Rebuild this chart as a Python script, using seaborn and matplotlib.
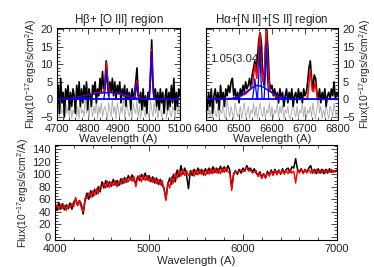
import numpy as np
import pandas as pd
import matplotlib
matplotlib.use("Agg")
import matplotlib.pyplot as plt
import seaborn as sns
from matplotlib.ticker import MultipleLocator

# ---------------- data ----------------
# H-beta + [O III] panel (4 A grid, 4700-5100)
hb_wave = np.arange(4700, 5101, 4)
hb_obs = [-2, 4, -4, 6, -1, 2, -5, 3, 0, 4,
          -3, 2, -2, 3, 1, -4, 4, 0, 5, -2,
          3, -1, 4, 0, 5, -3, 3, 1, -2, 4,
          2, 5, -1, 3, 1, 6, 2, 8, 3, 5,
          11, 6, 1, 5, 2, 6, 1, 5, 0, 4,
          2, 5, -1, 3, 1, 4, -2, 3, 0, 2,
          -3, 3, 0, 2, 5, 9, 2, -1, 2, -3,
          3, -2, 1, -4, 2, 0, 6, 17, 5, 0,
          3, -2, 2, -3, 3, -1, 2, -4, 1, 3,
          -3, 2, -2, 4, -1, 6, -3, 2, -2, 3, 1]
hb_resid = [-5, -2, -5.5, -1, -4, -3, -5.5, 0, -4, -2,
            -5, -1, -5.5, -3, -4, 0.5, -5, -2, -5.5, -1,
            -4, -3, -5, 1, -4, -2, -5.5, -1, -3, -5,
            -2, -4, 0, -5.5, -2, -4, -1, -5, -3, -2,
            -4, -5.5, -1, -3, -5, 0, -4, -2, -5.5, -1,
            -3, -5, -2, -4, 1, -5.5, -3, -1, -4, -5,
            -2, -5.5, -1, -3, -4, 0, -5, -2, -5.5, -3,
            -1, -4, -5, -2, -4, -5.5, 0, -3, -5, -1,
            -4, -2, -5.5, -3, -1, -5, -4, -2, 0, -5.5,
            -3, -1, -4, -5, -2, -3, -5.5, -1, -4, -2, -5]
hb_model_w = [4700, 4750, 4780, 4810, 4840, 4852, 4856, 4861, 4866, 4870, 4890,
              4920, 4950, 4953, 4959, 4965, 4970, 4990, 4999, 5002, 5007,
              5012, 5015, 5040, 5100]
hb_model_f = [0, 0.3, 0.8, 1.5, 2.0, 2.1, 4, 10.5, 4.5, 2.1, 1.8,
              1.2, 0.5, 1, 5.3, 1, 0.3, 0.1, 0.2, 4, 14.2,
              4, 0.2, 0, 0]
hb_broad_w = [4726, 4760, 4790, 4820, 4845, 4872, 4900, 4925, 4950, 4970]
hb_broad_f = [0, 0.4, 0.9, 1.5, 1.8, 1.95, 1.8, 1.3, 0.6, 0]
hb_nar_w = [[4852, 4857, 4861, 4865, 4870],
            [4952, 4956, 4959, 4962, 4966],
            [4999, 5003, 5007, 5011, 5015]]
hb_nar_f = [[0, 3, 8.5, 3, 0],
            [0, 2, 4.5, 2, 0],
            [0, 5, 13.6, 5, 0]]

# H-alpha + [N II] + [S II] panel (4 A grid, 6400-6800)
ha_wave = np.arange(6400, 6801, 4)
ha_obs = [1, -3, 2, -2, 3, -4, 1, 3, -1, 2,
          -3, 4, 0, 2, -2, 3, 1, 4, 2, 5,
          6, 1, 3, 0, 2, -1, 3, 1, 4, 2,
          5, 3, 4, 6, 3, 7, 9, 11, 8, 12,
          17, 19, 16, 7, 4, 15, 20, 14, 5, 3,
          4, 1, 3, 0, 2, -1, 3, 0, 2, -2,
          1, 3, -1, 2, 0, 3, -2, 1, 2, -1,
          3, 0, 2, -1, 3, 1, 2, 5, 9, 11,
          6, 3, 7, 6, 2, 0, 3, -1, 2, 0,
          3, -2, 1, 2, 0, 3, 1, 5, 0, 2, 1]
ha_resid = [-4, -5.5, -2, -5, -3, -5.5, -1, -4, -5, -2,
            -5.5, -3, -4, -1, -5, -5.5, 0, -3, -5, -2,
            -4, -5.5, -1, -3, -5, -4, -2, -5.5, -3, -1,
            -5, -4, -2, -5.5, -3, -4, -1, -5, -2, -5.5,
            -3, -1, -4, -5, -2, -5.5, -3, -4, -1, -5,
            -2, -5.5, -3, -4, -1, -5, -2, -4, -1.5, -5.5,
            -3, -4, -2, -5, -5.5, -3, -1, -4, -5, -2,
            -5.5, -3, -4, -1, -5, -2, -5.5, -3, -4, -2,
            -5, -1, -4, -5.5, -3, 1.5, -4, -2, -5.5, -3,
            -5, -1, -4, -5.5, -2, -3, -5, -1, -4, -5.5, -3]
ha_model_w = [6400, 6480, 6520, 6536, 6542, 6548, 6554, 6558, 6563, 6568,
              6573, 6578, 6583, 6588, 6593, 6610, 6640, 6700, 6708, 6716,
              6722, 6726, 6731, 6737, 6745, 6800]
ha_model_f = [0, 0.3, 1.5, 3, 5, 10, 6, 10, 19, 9,
              5, 9, 20, 9, 2.5, 1, 0.2, 0, 0.5, 8.6,
              2.5, 2.2, 5, 0.5, 0, 0]
ha_broad_w = [6468, 6490, 6510, 6530, 6545, 6555, 6570, 6590, 6615, 6645, 6670]
ha_broad_f = [0, 0.5, 1.3, 2.7, 3.6, 4.0, 3.7, 2.5, 1.1, 0.3, 0]
ha_nar_w = [[6541, 6545, 6548, 6551, 6555],
            [6556, 6560, 6563, 6566, 6570],
            [6576, 6580, 6583, 6586, 6590]]
ha_nar_f = [[0, 3, 5.9, 3, 0],
            [0, 7, 15, 7, 0],
            [0, 7, 16.2, 7, 0]]

# Full spectrum (20 A grid, 4000-7000)
full_wave = np.arange(4000, 7001, 20)
full_obs = [52, 42, 55, 44, 53, 43, 51, 45, 54, 44,
            56, 60, 50, 58, 52, 36, 58, 70, 60, 74,
            64, 76, 68, 80, 72, 88, 78, 90, 80, 88,
            81, 92, 83, 90, 82, 93, 85, 95, 87, 98,
            91, 99, 90, 86, 97, 90, 100, 92, 102, 91,
            98, 88, 96, 86, 94, 84, 92, 82, 78, 60,
            84, 94, 84, 100, 88, 107, 96, 114, 100, 110,
            98, 77, 106, 98, 108, 100, 110, 101, 108, 99,
            109, 101, 110, 102, 112, 103, 110, 102, 113, 104,
            112, 105, 114, 106, 78, 101, 106, 100, 108, 102,
            110, 105, 114, 108, 110, 104, 109, 102, 98, 104,
            95, 101, 94, 105, 99, 107, 100, 108, 101, 107,
            100, 109, 102, 108, 110, 103, 112, 110, 125, 108,
            104, 109, 102, 108, 103, 110, 114, 102, 108, 101,
            109, 102, 108, 101, 108, 102, 109, 103, 106, 104, 107]
full_model = [46, 51, 43, 52, 45, 50, 42, 51, 46, 53,
              48, 63, 50, 57, 46, 40, 62, 61, 70, 63,
              73, 66, 77, 69, 81, 80, 86, 78, 89, 79,
              88, 82, 90, 80, 89, 84, 93, 86, 94, 88,
              96, 89, 97, 80, 94, 98, 88, 99, 90, 98,
              89, 95, 87, 94, 85, 91, 83, 90, 76, 58,
              87, 78, 96, 86, 102, 94, 106, 97, 108, 98,
              106, 98, 103, 106, 97, 107, 99, 108, 100, 106,
              98, 108, 100, 109, 101, 110, 102, 109, 101, 110,
              103, 111, 104, 102, 74, 99, 105, 103, 104, 107,
              104, 106, 111, 105, 107, 102, 104, 106, 96, 102,
              93, 100, 95, 103, 97, 105, 98, 106, 99, 106,
              101, 106, 100, 107, 101, 108, 102, 105, 86, 107,
              102, 108, 101, 107, 102, 108, 102, 107, 102, 108,
              102, 107, 102, 107, 102, 107, 103, 108, 103, 106, 107]

assert len(hb_obs) == len(hb_wave) == len(hb_resid)
assert len(ha_obs) == len(ha_wave) == len(ha_resid)
assert len(full_obs) == len(full_wave) == len(full_model)

# ---------------- style ----------------
sns.set_style("white")
plt.rcParams['font.family'] = ['Liberation Sans', 'DejaVu Sans']
plt.rcParams['mathtext.fontset'] = 'custom'
plt.rcParams['mathtext.rm'] = 'Liberation Sans'
plt.rcParams['mathtext.it'] = 'Liberation Sans'
plt.rcParams['axes.linewidth'] = 0.8

FS = 8
YLAB = r'Flux(10$^{-17}$ergs/s/cm$^2$/A)'
BLUE = '#0000ff'
RED = '#ff0000'
GRAY = '#a8a8a8'

fig = plt.figure(figsize=(3.74, 2.67), dpi=100)
W, H = 374.0, 267.0


def box(x0, y0, x1, y1):
    return [x0 / W, 1 - y1 / H, (x1 - x0) / W, (y1 - y0) / H]


ax1 = fig.add_axes(box(57, 28, 180, 120))
ax2 = fig.add_axes(box(206, 28, 338, 120))
ax3 = fig.add_axes(box(55, 145, 337, 240))


def line(ax, x, y, color, lw):
    sns.lineplot(x=np.asarray(x, float), y=np.asarray(y, float), ax=ax,
                 color=color, lw=lw, estimator=None, sort=False)


def style(ax, xmaj, xmin, ymaj, ymin, right=False):
    ax.xaxis.set_major_locator(MultipleLocator(xmaj))
    ax.xaxis.set_minor_locator(MultipleLocator(xmin))
    ax.yaxis.set_major_locator(MultipleLocator(ymaj))
    ax.yaxis.set_minor_locator(MultipleLocator(ymin))
    ax.tick_params(which='both', direction='in', top=True, bottom=True,
                   left=True, right=True, labelsize=FS, width=0.6, pad=3)
    ax.tick_params(which='major', length=4)
    ax.tick_params(which='minor', length=2)
    if right:
        ax.tick_params(labelleft=False, labelright=True)
        ax.yaxis.set_label_position('right')
    for s in ax.spines.values():
        s.set_linewidth(0.8)
        s.set_color('black')


# panel 1
line(ax1, hb_wave, hb_resid, GRAY, 0.6)
line(ax1, hb_wave, hb_obs, 'black', 1.2)
line(ax1, hb_model_w, hb_model_f, RED, 1.1)
line(ax1, [4700, 5100], [0, 0], BLUE, 1.3)
line(ax1, hb_broad_w, hb_broad_f, BLUE, 1.0)
for w, f in zip(hb_nar_w, hb_nar_f):
    line(ax1, w, f, BLUE, 0.9)
ax1.set_xlim(4700, 5100)
ax1.set_ylim(-5.9, 20.4)
style(ax1, 100, 20, 5, 1)
ax1.set_title(r'H$\beta$+ [O III] region', fontsize=8.4, pad=3)
ax1.set_xlabel('Wavelength (A)', fontsize=8.2, labelpad=0)
ax1.set_ylabel(YLAB, fontsize=7.4, labelpad=1)

# panel 2
line(ax2, ha_wave, ha_resid, GRAY, 0.6)
line(ax2, ha_wave, ha_obs, 'black', 1.2)
line(ax2, ha_model_w, ha_model_f, RED, 1.1)
line(ax2, [6400, 6800], [0, 0], BLUE, 1.3)
line(ax2, ha_broad_w, ha_broad_f, BLUE, 1.0)
for w, f in zip(ha_nar_w, ha_nar_f):
    line(ax2, w, f, BLUE, 0.9)
ax2.set_xlim(6400, 6800)
ax2.set_ylim(-5.9, 20.4)
style(ax2, 100, 20, 5, 1, right=True)
ax2.set_title(r'H$\alpha$+[N II]+[S II] region', fontsize=8.4, pad=3)
ax2.set_xlabel('Wavelength (A)', fontsize=8.2, labelpad=0)
ax2.set_ylabel(YLAB, fontsize=7.4, labelpad=2)
ax2.text(6411, 11.4, '1.05(3.04)', fontsize=8.2, va='center', ha='left')

# panel 3
line(ax3, full_wave, full_obs, 'black', 1.1)
line(ax3, full_wave, full_model, RED, 1.0)
ax3.set_xlim(4000, 7000)
ax3.set_ylim(-5.3, 147)
style(ax3, 1000, 200, 20, 5)
ax3.set_xlabel('Wavelength (A)', fontsize=8.2, labelpad=1)
ax3.set_ylabel(YLAB, fontsize=7.4, labelpad=1)

fig.savefig('out.png', dpi=100)
